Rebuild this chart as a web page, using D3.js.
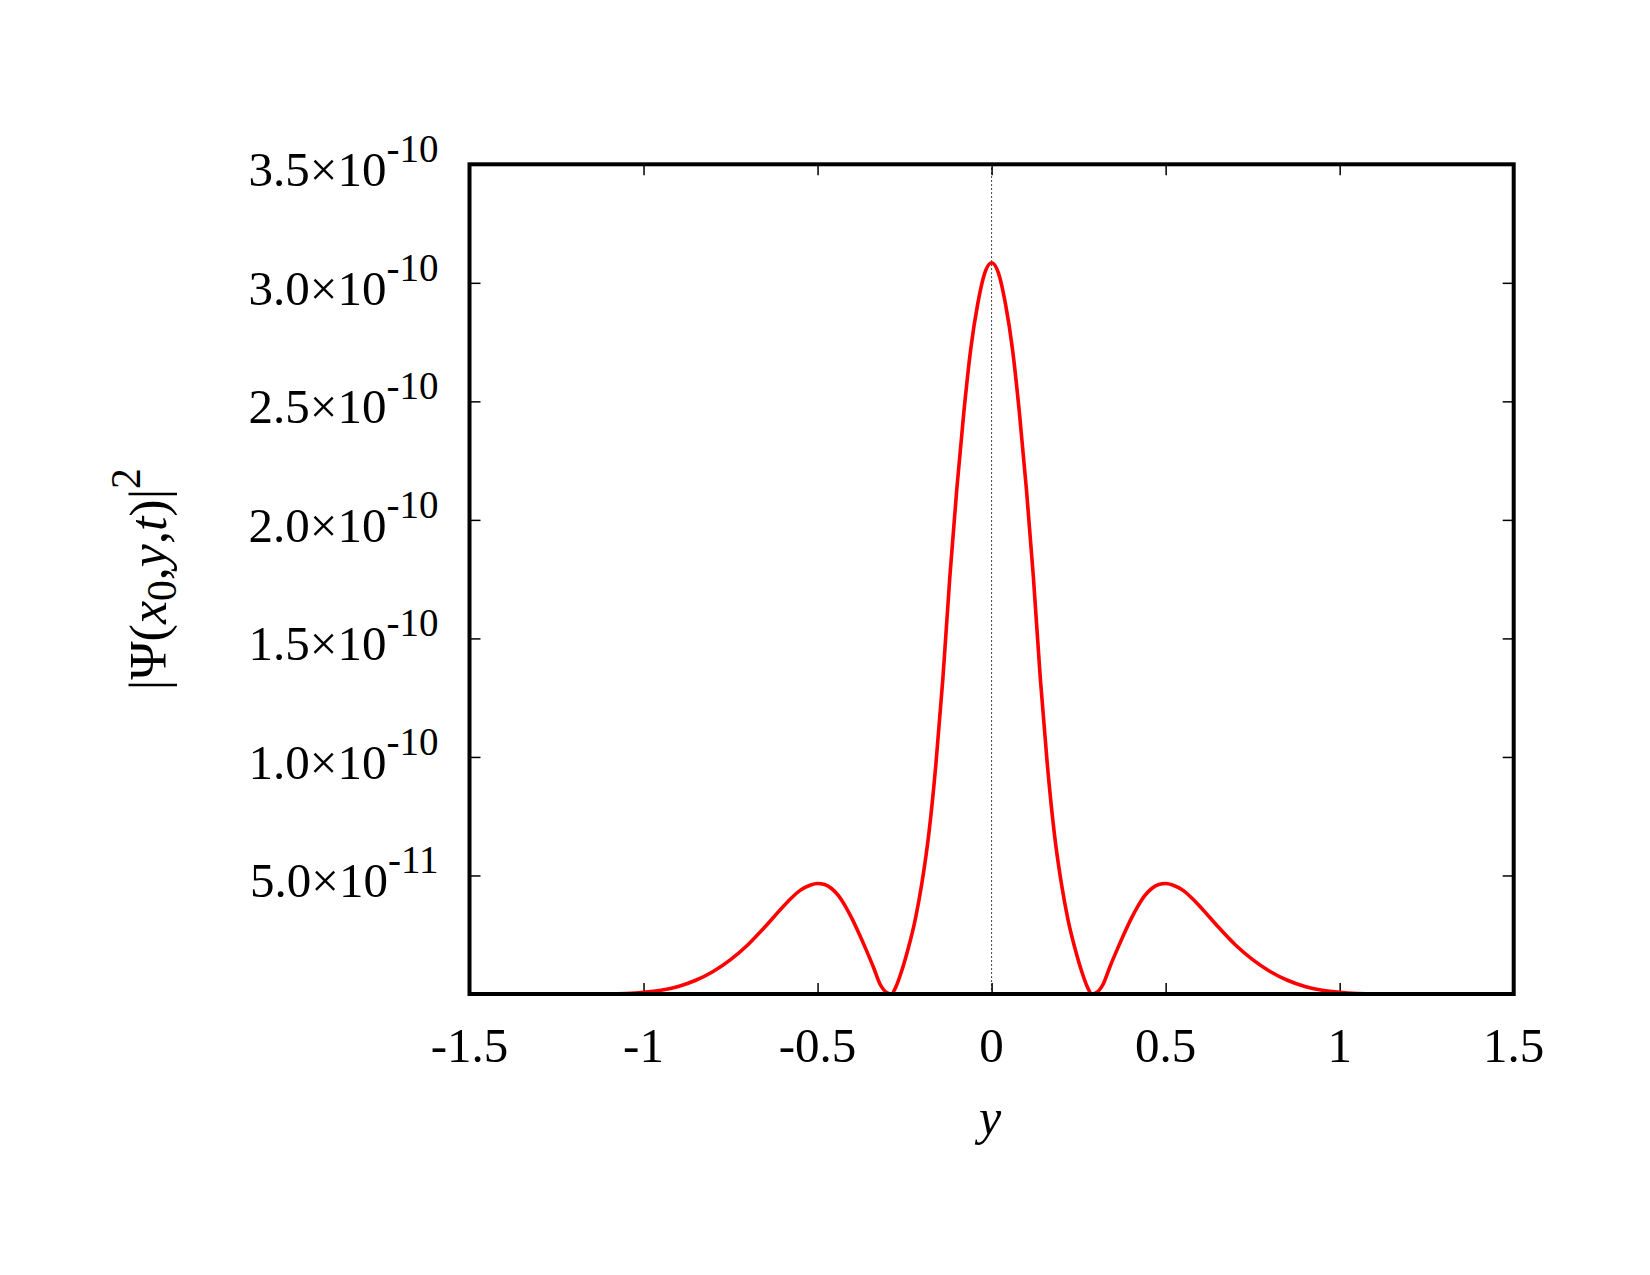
<!DOCTYPE html>
<html>
<head>
<meta charset="utf-8">
<script src="https://cdn.jsdelivr.net/npm/d3@7"></script>
<style>
  body { margin: 0; background: #fff; }
  text { font-family: "Liberation Serif", "Times New Roman", serif; fill: #000; }
</style>
</head>
<body>
<div id="chart-area"></div>
<script>
// values (y position, |psi|^2)
var yPos = [-1.5, -1.1, -1.05, -1.0, -0.95, -0.90, -0.85, -0.80, -0.75, -0.70, -0.65, -0.625, -0.60, -0.575, -0.55, -0.52, -0.50,
            -0.48, -0.46, -0.44, -0.42, -0.40, -0.38, -0.36, -0.34, -0.32, -0.30, -0.288,
            -0.275, -0.26, -0.24, -0.22, -0.20, -0.18, -0.16, -0.14, -0.12, -0.10, -0.08, -0.06, -0.04, -0.02,
            0,
            0.02, 0.04, 0.06, 0.08, 0.10, 0.12, 0.14, 0.16, 0.18, 0.20, 0.22, 0.24, 0.26, 0.275,
            0.288, 0.30, 0.32, 0.34, 0.36, 0.38, 0.40, 0.42, 0.44, 0.46, 0.48,
            0.50, 0.52, 0.55, 0.575, 0.60, 0.625, 0.65, 0.70, 0.75, 0.80, 0.85, 0.90, 0.95, 1.0, 1.05, 1.1, 1.5];
var psiSq = [0, 0, 0.002e-10, 0.007e-10, 0.016e-10, 0.032e-10, 0.058e-10, 0.095e-10, 0.145e-10, 0.208e-10, 0.285e-10, 0.326e-10, 0.367e-10, 0.405e-10, 0.437e-10, 0.46e-10, 0.466e-10,
             0.462e-10, 0.445e-10, 0.415e-10, 0.37e-10, 0.315e-10, 0.252e-10, 0.185e-10, 0.115e-10, 0.04e-10, 0.005e-10, 0,
             0.03e-10, 0.09e-10, 0.19e-10, 0.31e-10, 0.47e-10, 0.68e-10, 0.97e-10, 1.33e-10, 1.76e-10, 2.13e-10, 2.45e-10, 2.72e-10, 2.91e-10, 3.04e-10,
             3.085e-10,
             3.04e-10, 2.91e-10, 2.72e-10, 2.45e-10, 2.13e-10, 1.76e-10, 1.33e-10, 0.97e-10, 0.68e-10, 0.47e-10, 0.31e-10, 0.19e-10, 0.09e-10, 0.03e-10,
             0, 0.005e-10, 0.04e-10, 0.115e-10, 0.185e-10, 0.252e-10, 0.315e-10, 0.37e-10, 0.415e-10, 0.445e-10, 0.462e-10,
             0.466e-10, 0.46e-10, 0.437e-10, 0.405e-10, 0.367e-10, 0.326e-10, 0.285e-10, 0.208e-10, 0.145e-10, 0.095e-10, 0.058e-10, 0.032e-10, 0.016e-10, 0.007e-10, 0.002e-10, 0, 0];

var xTicks = [-1.5, -1, -0.5, 0, 0.5, 1, 1.5];
var yTicks = [0.5e-10, 1.0e-10, 1.5e-10, 2.0e-10, 2.5e-10, 3.0e-10, 3.5e-10];

var margin = { left:469.5, right:136.3, top:164.3, bottom:281 };

var width = 1650 - margin.left - margin.right;
var height = 1275 - margin.top - margin.bottom;

var svg = d3.select("#chart-area")
    .append("svg")
        .attr("width", width + margin.left + margin.right)
        .attr("height", height + margin.top + margin.bottom);

var g = svg.append("g")
        .attr("transform", "translate(" + margin.left + ", " + margin.top + ")");

var xscale = d3.scaleLinear().domain([-1.5, 1.5]).range([0, width]);
var yscale = d3.scaleLinear().domain([0, 3.5e-10]).range([height, 0]);

// inward ticks on all four sides (gnuplot mirror style)
function tickAxis(axis, tx, ty) {
    var a = g.append("g")
        .attr("transform", "translate(" + tx + "," + ty + ")")
        .call(axis.tickSizeInner(-11).tickSizeOuter(0).tickFormat(""));
    a.select(".domain").remove();
    a.selectAll("line").attr("stroke", "#000").attr("stroke-width", 1.5);
}
tickAxis(d3.axisBottom(xscale).tickValues(xTicks), 0, height);
tickAxis(d3.axisTop(xscale).tickValues(xTicks), 0, 0);
tickAxis(d3.axisLeft(yscale).tickValues(yTicks), 0, 0);
tickAxis(d3.axisRight(yscale).tickValues(yTicks), width, 0);

// x tick labels
g.selectAll(".xlab")
    .data(xTicks)
    .enter()
    .append("text")
        .attr("class", "xlab")
        .attr("x", function(d){ return xscale(d); })
        .attr("y", height + 68)
        .attr("text-anchor", "middle")
        .attr("font-size", 49)
        .text(function(d){ return String(d); });

// y tick labels  m.m x 10^e
var ylab = g.selectAll(".ylab")
    .data(yTicks)
    .enter()
    .append("text")
        .attr("class", "ylab")
        .attr("x", -31)
        .attr("y", function(d){ return yscale(d) + 22; })
        .attr("text-anchor", "end")
        .attr("font-size", 49);
ylab.append("tspan")
    .text(function(d){
        var e = Math.floor(Math.log10(d) + 1e-9);
        return (d / Math.pow(10, e)).toFixed(1) + "\u00d710";
    });
ylab.append("tspan")
    .attr("dy", -24)
    .attr("font-size", 39)
    .text(function(d){ return String(Math.floor(Math.log10(d) + 1e-9)); });

// dotted zero line
g.append("line")
    .attr("x1", xscale(0)).attr("x2", xscale(0))
    .attr("y1", 0).attr("y2", height)
    .attr("stroke", "#000")
    .attr("stroke-width", 1)
    .attr("stroke-dasharray", "1.5,2.5");

// the curve
var pts = yPos.map(function(d, i){ return [d, psiSq[i]]; });
var line = d3.line()
    .x(function(d){ return xscale(d[0]); })
    .y(function(d){ return yscale(d[1]); })
    .curve(d3.curveMonotoneX);

g.append("path")
    .datum(pts)
    .attr("d", line)
    .attr("fill", "none")
    .attr("stroke", "#ff0000")
    .attr("stroke-width", 3.6)
    .attr("stroke-linejoin", "round");

// frame
g.append("rect")
    .attr("x", 0).attr("y", 0)
    .attr("width", width).attr("height", height)
    .attr("fill", "none")
    .attr("stroke", "#000")
    .attr("stroke-width", 4);

// axis labels
svg.append("text")
    .attr("x", 990)
    .attr("y", 1134)
    .attr("text-anchor", "middle")
    .attr("font-size", 50)
    .attr("font-style", "italic")
    .text("y");

var yl = svg.append("text")
    .attr("transform", "translate(166," + (margin.top + height / 2) + ") rotate(-90)")
    .attr("text-anchor", "middle")
    .attr("font-size", 52);
yl.append("tspan").text("|\u03a8(");
yl.append("tspan").attr("font-style", "italic").text("x");
yl.append("tspan").attr("font-size", 41.6).attr("dy", 10).text("0");
yl.append("tspan").attr("dy", -10).text(",");
yl.append("tspan").attr("font-style", "italic").text("y");
yl.append("tspan").text(",");
yl.append("tspan").attr("font-style", "italic").text("t");
yl.append("tspan").text(")|");
yl.append("tspan").attr("font-size", 41.6).attr("dy", -26).text("2");
</script>
</body>
</html>
